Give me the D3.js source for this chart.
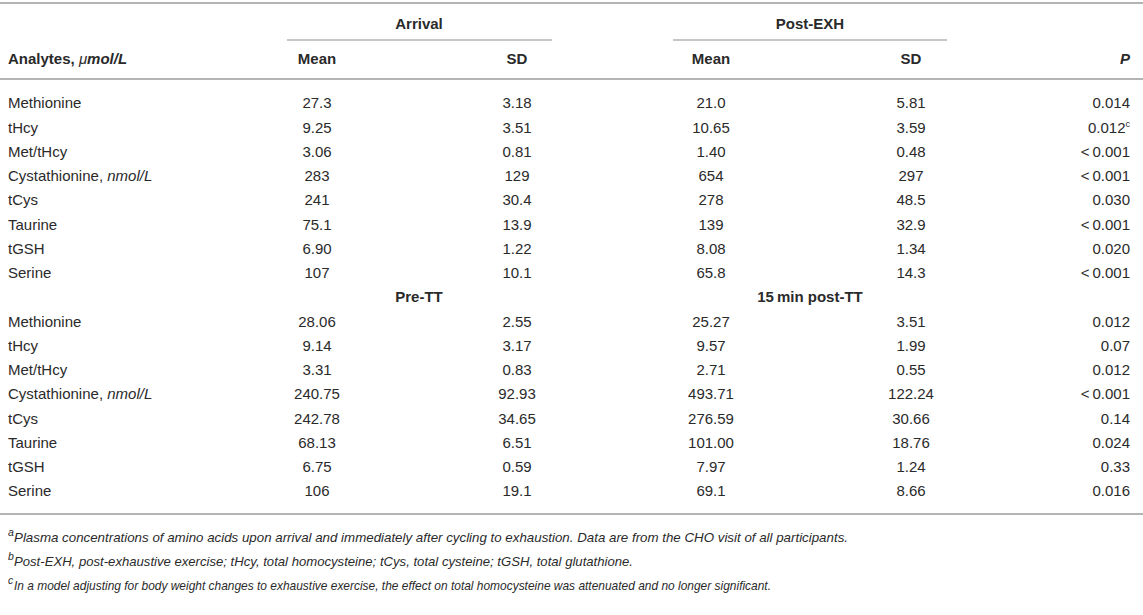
<!DOCTYPE html>
<html>
<head>
    <title>Plasma amino acids table</title>
    <script src="https://cdn.jsdelivr.net/npm/d3@7"></script>
</head>
<body style="margin: 0; background: #fff">
<svg width="1143" height="615"></svg>

<script>
    const svg = d3.select("svg");
    const font = "'Liberation Sans', Arial, Helvetica, sans-serif";
    const ink = "#2a2a2a";
    const ruleColor = "#b4b4b4";

    // Data
    const analytes = ["Methionine", "tHcy", "Met/tHcy", "Cystathionine", "tCys", "Taurine", "tGSH", "Serine"];
    const groupsTop = ["Arrival", "Post-EXH"];
    const groupsBottom = ["Pre-TT", "15\u2009min post-TT"];

    const arrivalMean = ["27.3", "9.25", "3.06", "283", "241", "75.1", "6.90", "107"];
    const arrivalSD   = ["3.18", "3.51", "0.81", "129", "30.4", "13.9", "1.22", "10.1"];
    const exhMean     = ["21.0", "10.65", "1.40", "654", "278", "139", "8.08", "65.8"];
    const exhSD       = ["5.81", "3.59", "0.48", "297", "48.5", "32.9", "1.34", "14.3"];
    const exhP        = ["0.014", "0.012", "<\u20090.001", "<\u20090.001", "0.030", "<\u20090.001", "0.020", "<\u20090.001"];
    const exhPNote    = ["", "c", "", "", "", "", "", ""];

    const preMean     = ["28.06", "9.14", "3.31", "240.75", "242.78", "68.13", "6.75", "106"];
    const preSD       = ["2.55", "3.17", "0.83", "92.93", "34.65", "6.51", "0.59", "19.1"];
    const postTTMean  = ["25.27", "9.57", "2.71", "493.71", "276.59", "101.00", "7.97", "69.1"];
    const postTTSD    = ["3.51", "1.99", "0.55", "122.24", "30.66", "18.76", "1.24", "8.66"];
    const ttP         = ["0.012", "0.07", "0.012", "<\u20090.001", "0.14", "0.024", "0.33", "0.016"];

    const footnotes = [
        { mark: "a", text: "Plasma concentrations of amino acids upon arrival and immediately after cycling to exhaustion. Data are from the CHO visit of all participants." },
        { mark: "b", text: "Post-EXH, post-exhaustive exercise; tHcy, total homocysteine; tCys, total cysteine; tGSH, total glutathione." },
        { mark: "c", text: " In a model adjusting for body weight changes to exhaustive exercise, the effect on total homocysteine was attenuated and no longer significant." }
    ];

    // Rows: 8 analytes, a sub-header, 8 analytes
    const rows = [];
    analytes.forEach((a, i) => rows.push({ key: "a" + i, name: a, vals: [arrivalMean[i], arrivalSD[i], exhMean[i], exhSD[i]], p: exhP[i], note: exhPNote[i] }));
    rows.push({ key: "sub", groups: groupsBottom });
    analytes.forEach((a, i) => rows.push({ key: "b" + i, name: a, vals: [preMean[i], preSD[i], postTTMean[i], postTTSD[i]], p: ttP[i], note: "" }));

    const y = d3.scalePoint().domain(rows.map(r => r.key)).range([103, 491]);
    const colX = d3.scaleOrdinal().domain([0, 1, 2, 3]).range([317, 517, 711, 911]);
    const groupX = d3.scaleOrdinal().domain([0, 1]).range([419, 810]);
    const groupRule = [[287, 552], [673, 947]];
    const pX = 1130;
    const fs = 15;

    // Rules
    const hRules = [{ y: 3 }, { y: 79 }, { y: 514 }];
    svg.selectAll(".rule")
        .data(hRules)
        .enter().append("line")
        .attr("class", "rule")
        .attr("x1", 0).attr("x2", 1143)
        .attr("y1", d => d.y).attr("y2", d => d.y)
        .attr("stroke", ruleColor)
        .attr("stroke-width", 2);

    svg.selectAll(".grule")
        .data(groupRule)
        .enter().append("line")
        .attr("x1", d => d[0]).attr("x2", d => d[1])
        .attr("y1", 40).attr("y2", 40)
        .attr("stroke", ruleColor)
        .attr("stroke-width", 1.5);

    // Group headers
    svg.selectAll(".group")
        .data(groupsTop)
        .enter().append("text")
        .attr("x", (d, i) => groupX(i))
        .attr("y", 24)
        .attr("dy", "0.35em")
        .attr("text-anchor", "middle")
        .attr("font-family", font)
        .attr("font-weight", "bold")
        .attr("font-size", fs)
        .attr("fill", ink)
        .text(d => d);

    // Column headers
    const head = svg.append("g")
        .attr("font-family", font)
        .attr("font-weight", "bold")
        .attr("font-size", fs)
        .attr("fill", ink);

    const first = head.append("text").attr("x", 8).attr("y", 59).attr("dy", "0.35em");
    first.append("tspan").text("Analytes, ");
    first.append("tspan").attr("font-style", "italic").attr("font-weight", "normal").text("\u03bc");
    first.append("tspan").attr("font-style", "italic").text("mol/L");

    head.selectAll(".colhead")
        .data(["Mean", "SD", "Mean", "SD"])
        .enter().append("text")
        .attr("x", (d, i) => colX(i))
        .attr("y", 59)
        .attr("dy", "0.35em")
        .attr("text-anchor", "middle")
        .text(d => d);

    head.append("text")
        .attr("x", pX).attr("y", 59).attr("dy", "0.35em")
        .attr("text-anchor", "end")
        .attr("font-style", "italic")
        .text("P");

    // Body rows
    const body = svg.append("g")
        .attr("font-family", font)
        .attr("font-size", fs)
        .attr("fill", ink);

    const row = body.selectAll(".row")
        .data(rows)
        .enter().append("g")
        .attr("class", "row")
        .attr("transform", d => `translate(0,${y(d.key)})`);

    const dataRows = row.filter(d => d.key !== "sub");

    const names = dataRows.append("text")
        .attr("x", 8)
        .attr("dy", "0.35em");
    names.append("tspan").text(d => d.name);
    names.filter(d => d.name === "Cystathionine")
        .append("tspan").text(", ")
        .append("tspan").attr("font-style", "italic").text("nmol/L");

    dataRows.selectAll(".val")
        .data(d => d.vals)
        .enter().append("text")
        .attr("x", (d, i) => colX(i))
        .attr("dy", "0.35em")
        .attr("text-anchor", "middle")
        .text(d => d);

    const pText = dataRows.append("text")
        .attr("x", pX)
        .attr("dy", "0.35em")
        .attr("text-anchor", "end");
    pText.append("tspan").text(d => d.p);
    pText.filter(d => d.note)
        .append("tspan")
        .attr("font-size", 9)
        .attr("dy", "-0.6em")
        .text(d => d.note);

    row.filter(d => d.key === "sub")
        .selectAll(".sub")
        .data(d => d.groups)
        .enter().append("text")
        .attr("x", (d, i) => groupX(i))
        .attr("dy", "0.35em")
        .attr("text-anchor", "middle")
        .attr("font-weight", "bold")
        .text(d => d);

    // Footnotes
    const fy = d3.scalePoint().domain(d3.range(footnotes.length)).range([537, 585]);
    const fWidth = [834, 619, 757];
    const fn = svg.selectAll(".foot")
        .data(footnotes)
        .enter().append("g")
        .attr("transform", (d, i) => `translate(0,${fy(i)})`)
        .attr("font-family", font)
        .attr("font-style", "italic")
        .attr("fill", ink);

    fn.append("text")
        .attr("x", 8).attr("dy", "-0.1em")
        .attr("font-size", 10.5)
        .text(d => d.mark);

    fn.append("text")
        .attr("x", 14).attr("dy", "0.35em")
        .attr("font-size", 13.5)
        .attr("textLength", (d, i) => fWidth[i])
        .attr("lengthAdjust", "spacingAndGlyphs")
        .text(d => d.text);
</script>
</body>
</html>
